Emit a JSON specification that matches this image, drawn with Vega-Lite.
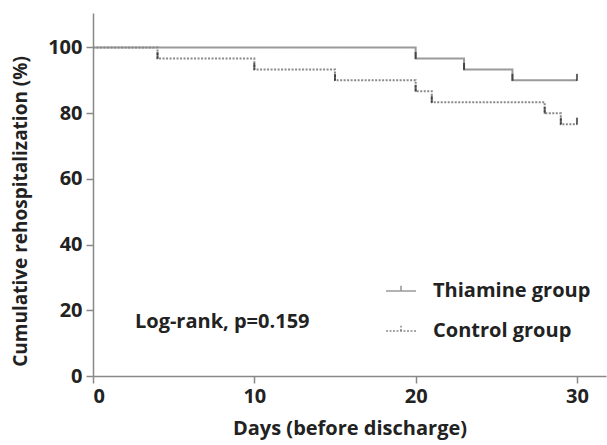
{
  "$schema": "https://vega.github.io/schema/vega-lite/v6.json",
  "width": 513,
  "height": 363,
  "autosize": {"type": "none"},
  "padding": {"left": 93, "top": 13, "right": 1, "bottom": 69},
  "background": "white",
  "config": {
    "view": {"stroke": null},
    "font": "Open Sans",
    "axis": {
      "domainColor": "#888888",
      "domainWidth": 1.5,
      "tickColor": "#888888",
      "tickWidth": 1.5,
      "tickSize": 7,
      "grid": false,
      "labelFont": "Open Sans",
      "labelFontWeight": "bold",
      "labelFontSize": 20,
      "labelColor": "#222222",
      "titleFont": "Open Sans",
      "titleFontWeight": "bold",
      "titleFontSize": 20,
      "titleColor": "#222222"
    }
  },
  "datasets": {
    "curves": [
      {"group": "Thiamine group", "day": 0, "pct": 100},
      {"group": "Thiamine group", "day": 20, "pct": 96.67},
      {"group": "Thiamine group", "day": 23, "pct": 93.33},
      {"group": "Thiamine group", "day": 26, "pct": 90},
      {"group": "Thiamine group", "day": 30, "pct": 90},
      {"group": "Control group", "day": 0, "pct": 100},
      {"group": "Control group", "day": 4, "pct": 96.67},
      {"group": "Control group", "day": 10, "pct": 93.33},
      {"group": "Control group", "day": 15, "pct": 90},
      {"group": "Control group", "day": 20, "pct": 86.67},
      {"group": "Control group", "day": 21, "pct": 83.33},
      {"group": "Control group", "day": 28, "pct": 80},
      {"group": "Control group", "day": 29, "pct": 76.67},
      {"group": "Control group", "day": 30, "pct": 76.67}
    ],
    "note": [{"day": 2.6, "pct": 16.3, "label": "Log-rank, p=0.159"}]
  },
  "layer": [
    {
      "data": {"name": "curves"},
      "mark": {"type": "line", "interpolate": "step-after", "strokeWidth": 2},
      "encoding": {
        "x": {
          "field": "day", "type": "quantitative",
          "scale": {"domain": [0, 31.8], "nice": false},
          "axis": {"values": [0, 10, 20, 30], "title": "Days (before discharge)", "titlePadding": 12, "labelPadding": 3}
        },
        "y": {
          "field": "pct", "type": "quantitative",
          "scale": {"domain": [0, 110.5], "nice": false},
          "axis": {"values": [0, 20, 40, 60, 80, 100], "title": "Cumulative rehospitalization (%)", "titlePadding": 17, "labelPadding": 4, "titleY": 198, "titleFontSize": 19}
        },
        "color": {
          "field": "group", "type": "nominal",
          "scale": {"domain": ["Thiamine group", "Control group"], "range": ["#9a9a9a", "#8a8a8a"]},
          "legend": {
            "orient": "none", "legendX": 292, "legendY": 262, "title": null,
            "symbolType": "M-1,0H1M0,0V-0.35", "symbolSize": 900, "symbolStrokeWidth": 1.6,
            "labelFont": "Open Sans", "labelFontWeight": "bold", "labelFontSize": 20, "labelColor": "#222222",
            "labelOffset": 16, "rowPadding": 14
          }
        },
        "strokeDash": {
          "field": "group", "type": "nominal",
          "scale": {"domain": ["Thiamine group", "Control group"], "range": [[1, 0], [2, 1.5]]},
          "legend": null
        }
      }
    },
    {
      "data": {"name": "curves"},
      "transform": [{"filter": "datum.day > 0"}],
      "mark": {"type": "tick", "orient": "vertical", "size": 7, "thickness": 2, "color": "#222222", "yOffset": -3},
      "encoding": {
        "x": {"field": "day", "type": "quantitative"},
        "y": {"field": "pct", "type": "quantitative"}
      }
    },
    {
      "data": {"name": "note"},
      "mark": {"type": "text", "align": "left", "baseline": "middle", "font": "Open Sans", "fontWeight": "bold", "fontSize": 20, "color": "#222222"},
      "encoding": {
        "x": {"field": "day", "type": "quantitative"},
        "y": {"field": "pct", "type": "quantitative"},
        "text": {"field": "label"}
      }
    }
  ]
}
